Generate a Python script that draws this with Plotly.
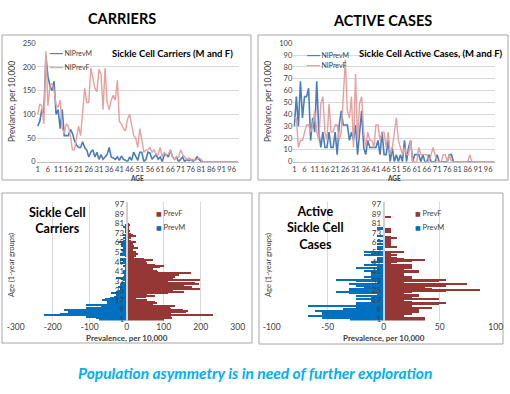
import plotly.graph_objects as go

ages = list(range(1, 100))
top_ticks = list(range(1, 100, 5))
pyr_ticks = list(range(1, 98, 8))

car_m = [75,85,110,100,225,180,160,150,170,100,
         110,70,110,55,55,55,68,60,45,35,
         30,30,42,30,25,10,20,25,10,20,
         5,15,5,10,15,30,10,8,5,10,
         3,12,5,3,0,10,3,20,10,3,
         20,20,0,5,20,18,5,10,15,5,
         10,0,15,15,10,25,10,5,10,0,
         5,10,0,5,2,5,0,3,10,5] + [0]*19
car_f = [100,122,118,80,233,118,160,165,150,120,
         115,130,70,60,80,75,55,25,25,50,
         75,55,110,155,125,125,198,175,155,148,
         195,185,110,198,125,110,130,140,130,172,
         85,80,70,65,90,100,75,55,50,30,
         70,45,20,25,25,30,20,25,15,15,
         30,10,20,15,15,25,10,5,10,10,
         25,15,10,5,8,3,5,3,5,8,
         5] + [0]*18
act_m = [30,55,30,68,37,55,55,62,18,37,
         25,68,25,12,25,12,12,25,12,12,
         25,6,31,43,31,31,31,18,25,18,
         31,6,25,43,12,6,18,12,12,12,
         12,18,6,25,6,6,18,0,12,0,
         6,0,6,0,18,0,12,18,0,6,
         6,6,0,6,0,0,6,0,0,0,
         6,0,0,0,0,0,6,6,0,0] + [0]*19
act_f = [37,37,12,18,18,25,31,31,25,31,
         43,25,18,49,55,25,18,49,25,25,
         31,31,18,25,55,86,43,37,55,12,
         74,18,49,55,25,12,25,18,18,12,
         31,31,18,25,25,12,25,6,12,25,
         37,18,12,6,12,6,6,18,0,0,
         0,12,6,6,6,6,0,6,12,6,
         0,0,0,6,6,0,6,0,0,0,
         0,0,0,0,0,0,6,0,0,0] + [0]*9

W, H = 510, 394
def px(x): return x / W
def py(y): return 1 - y / H

C_M_LINE = "#4A7EBB"
C_F_LINE = "#E6A0A0"
C_M_BAR = "#0070C0"
C_F_BAR = "#953735"
FONT = "Lato"
TICK = dict(family=FONT, size=7.5, color="#404040")
GRID = "#D9D9D9"

fig = go.Figure()

fig.add_trace(go.Scatter(x=ages, y=car_m, mode="lines", name="NIPrevM", line=dict(color=C_M_LINE, width=1.6),
                         xaxis="x", yaxis="y"))
fig.add_trace(go.Scatter(x=ages, y=car_f, mode="lines", name="NIPrevF", line=dict(color=C_F_LINE, width=1.4),
                         xaxis="x", yaxis="y"))
fig.add_trace(go.Scatter(x=ages, y=act_m, mode="lines", name="NIPrevM", line=dict(color=C_M_LINE, width=1.6),
                         xaxis="x2", yaxis="y2"))
fig.add_trace(go.Scatter(x=ages, y=act_f, mode="lines", name="NIPrevF", line=dict(color=C_F_LINE, width=1.4),
                         xaxis="x2", yaxis="y2"))
fig.add_trace(go.Bar(y=ages, x=car_f, orientation="h", name="PrevF", marker=dict(color=C_F_BAR, line=dict(width=0)),
                     xaxis="x3", yaxis="y3"))
fig.add_trace(go.Bar(y=ages, x=[-v for v in car_m], orientation="h", name="PrevM", marker=dict(color=C_M_BAR, line=dict(width=0)),
                     xaxis="x3", yaxis="y3"))
fig.add_trace(go.Bar(y=ages, x=act_f, orientation="h", name="PrevF", marker=dict(color=C_F_BAR, line=dict(width=0)),
                     xaxis="x4", yaxis="y4"))
fig.add_trace(go.Bar(y=ages, x=[-v for v in act_m], orientation="h", name="PrevM", marker=dict(color=C_M_BAR, line=dict(width=0)),
                     xaxis="x4", yaxis="y4"))

top_y_dom = [py(161.7), py(43.3)]
bot_y_dom = [py(320.5), py(201.5)]

def line_x(dom, anchor):
    return dict(domain=dom, range=[0.5, 99.5], tickvals=top_ticks, ticktext=[str(t) for t in top_ticks],
                tickfont=TICK, tickangle=0, showgrid=False, zeroline=False, showline=True, linecolor="#BFBFBF",
                ticks="", fixedrange=True, automargin=False, anchor=anchor)

def line_y(dom, rng, dt, anchor):
    return dict(domain=dom, range=rng, dtick=dt, tickfont=TICK, showgrid=True, gridcolor=GRID,
                zeroline=False, showline=False, ticks="", anchor=anchor, fixedrange=True, automargin=False)

def pyr_x(dom, rng, vals, anchor):
    return dict(domain=dom, range=rng, tickvals=vals, ticktext=[str(v) for v in vals], tickangle=0,
                tickfont=dict(family=FONT, size=8.5, color="#404040"), showgrid=True, gridcolor=GRID,
                zeroline=False, showline=False, ticks="", anchor=anchor, fixedrange=True, automargin=False)

def pyr_y(dom, pos):
    return dict(domain=dom, range=[-0.3, 99.5], tickvals=pyr_ticks, ticktext=[str(t) for t in pyr_ticks],
                tickfont=dict(family=FONT, size=8, color="#404040"), showgrid=False, zeroline=False,
                showline=True, linecolor="#D0D0D0", linewidth=2, ticks="", anchor="free", position=pos,
                side="left", fixedrange=True, automargin=False)

x1d = [px(36.7), px(238.8)]
x2d = [px(293.3), px(495.3)]
x3d = [px(15.7), px(237.7)]
x4d = [px(271.7), px(495.7)]

fig.update_layout(
    width=W, height=H, margin=dict(l=0, r=0, t=0, b=0, pad=0, autoexpand=False),
    paper_bgcolor="white", plot_bgcolor="rgba(0,0,0,0)",
    barmode="overlay", bargap=0, showlegend=False,
    xaxis=line_x(x1d, "y"),
    yaxis=line_y(top_y_dom, [0, 250], 50, "x"),
    xaxis2=line_x(x2d, "y2"),
    yaxis2=line_y(top_y_dom, [0, 100], 10, "x2"),
    xaxis3=pyr_x(x3d, [-300, 300], [-300, -200, -100, 0, 100, 200, 300], "y3"),
    yaxis3=pyr_y(bot_y_dom, (x3d[0] + x3d[1]) / 2),
    xaxis4=pyr_x(x4d, [-100, 100], [-100, -50, 0, 50, 100], "y4"),
    yaxis4=pyr_y(bot_y_dom, (x4d[0] + x4d[1]) / 2),
)

frame = dict(type="rect", xref="paper", yref="paper", line=dict(color="#A6A6A6", width=1), fillcolor="rgba(0,0,0,0)", layer="below")
shapes = [
    frame | dict(x0=px(2), x1=px(251), y0=py(180), y1=py(35)),
    frame | dict(x0=px(258), x1=px(508), y0=py(180), y1=py(35)),
    frame | dict(x0=px(2), x1=px(252), y0=py(343), y1=py(193)),
    frame | dict(x0=px(259), x1=px(503), y0=py(344), y1=py(193)),
]
fig.update_layout(shapes=shapes)

def ann(text, x, y, size, bold=False, color="#000000", rot=0, xanchor="center", italic=False):
    t = text
    if bold: t = "<b>" + t + "</b>"
    if italic: t = "<i>" + t + "</i>"
    return dict(text=t, x=px(x), y=py(y), xref="paper", yref="paper", showarrow=False,
                font=dict(family=FONT, size=size, color=color), textangle=rot,
                xanchor=xanchor, yanchor="middle", align="center")

def line_key(color, label, x, y):
    t = ('<span style="font-family:DejaVu Sans;color:%s">━━━</span> %s' % (color, label))
    return dict(text=t, x=px(x), y=py(y), xref="paper", yref="paper", showarrow=False,
                font=dict(family=FONT, size=7, color="#404040"), xanchor="left", yanchor="middle")

def box_key(color, label, x, y):
    t = ('<span style="font-family:DejaVu Sans;font-size:6px;color:%s">■</span> %s' % (color, label))
    return dict(text=t, x=px(x), y=py(y), xref="paper", yref="paper", showarrow=False,
                font=dict(family=FONT, size=7.5, color="#404040"), xanchor="left", yanchor="middle")

anns = [
    ann("CARRIERS", 122, 18, 14.5, bold=True),
    ann("ACTIVE CASES", 382, 20, 14.5, bold=True),
    ann("Sickle Cell Carriers (M and F)", 235, 54, 9.5, bold=True, xanchor="right"),
    ann("Sickle Cell Active Cases, (M and F)", 505, 54, 9.5, bold=True, xanchor="right"),
    ann("Prevlance, per 10,000", 12, 102, 8.5, color="#404040", rot=-90),
    ann("Prevlance, per 10,000", 268, 102, 8.5, color="#404040", rot=-90),
    ann("AGE", 137, 178, 6.5, bold=True, color="#404040"),
    ann("AGE", 394, 178, 6.5, bold=True, color="#404040"),
    ann("Age (1-year groups)", 11, 265, 7.5, color="#404040", rot=-90),
    ann("Age (1-year groups)", 268, 265, 7.5, color="#404040", rot=-90),
    ann("Prevalence, per 10,000", 127, 338, 8, bold=True, color="#404040"),
    ann("Prevalence, per 10,000", 384, 338, 8, bold=True, color="#404040"),
    ann("Sickle Cell<br>Carriers", 57, 221, 12.5, bold=True),
    ann("Active<br>Sickle Cell<br>Cases", 315, 228, 12.5, bold=True),
    ann("Population asymmetry is in need of further exploration", 255, 373, 15.5, bold=True, italic=True, color="#00B0F0"),
    line_key(C_M_LINE, "NIPrevM", 47, 54),
    line_key(C_F_LINE, "NIPrevF", 47, 67),
    line_key(C_M_LINE, "NIPrevM", 304, 55),
    line_key(C_F_LINE, "NIPrevF", 304, 66),
    box_key(C_F_BAR, "PrevF", 154, 213),
    box_key(C_M_BAR, "PrevM", 154, 227),
    box_key(C_F_BAR, "PrevF", 413, 214),
    box_key(C_M_BAR, "PrevM", 413, 227),
]
fig.update_layout(annotations=anns)

fig.write_html("out.html", config={"displayModeBar": False},
               post_script="document.body.style.margin='0';document.body.style.overflow='hidden';")
